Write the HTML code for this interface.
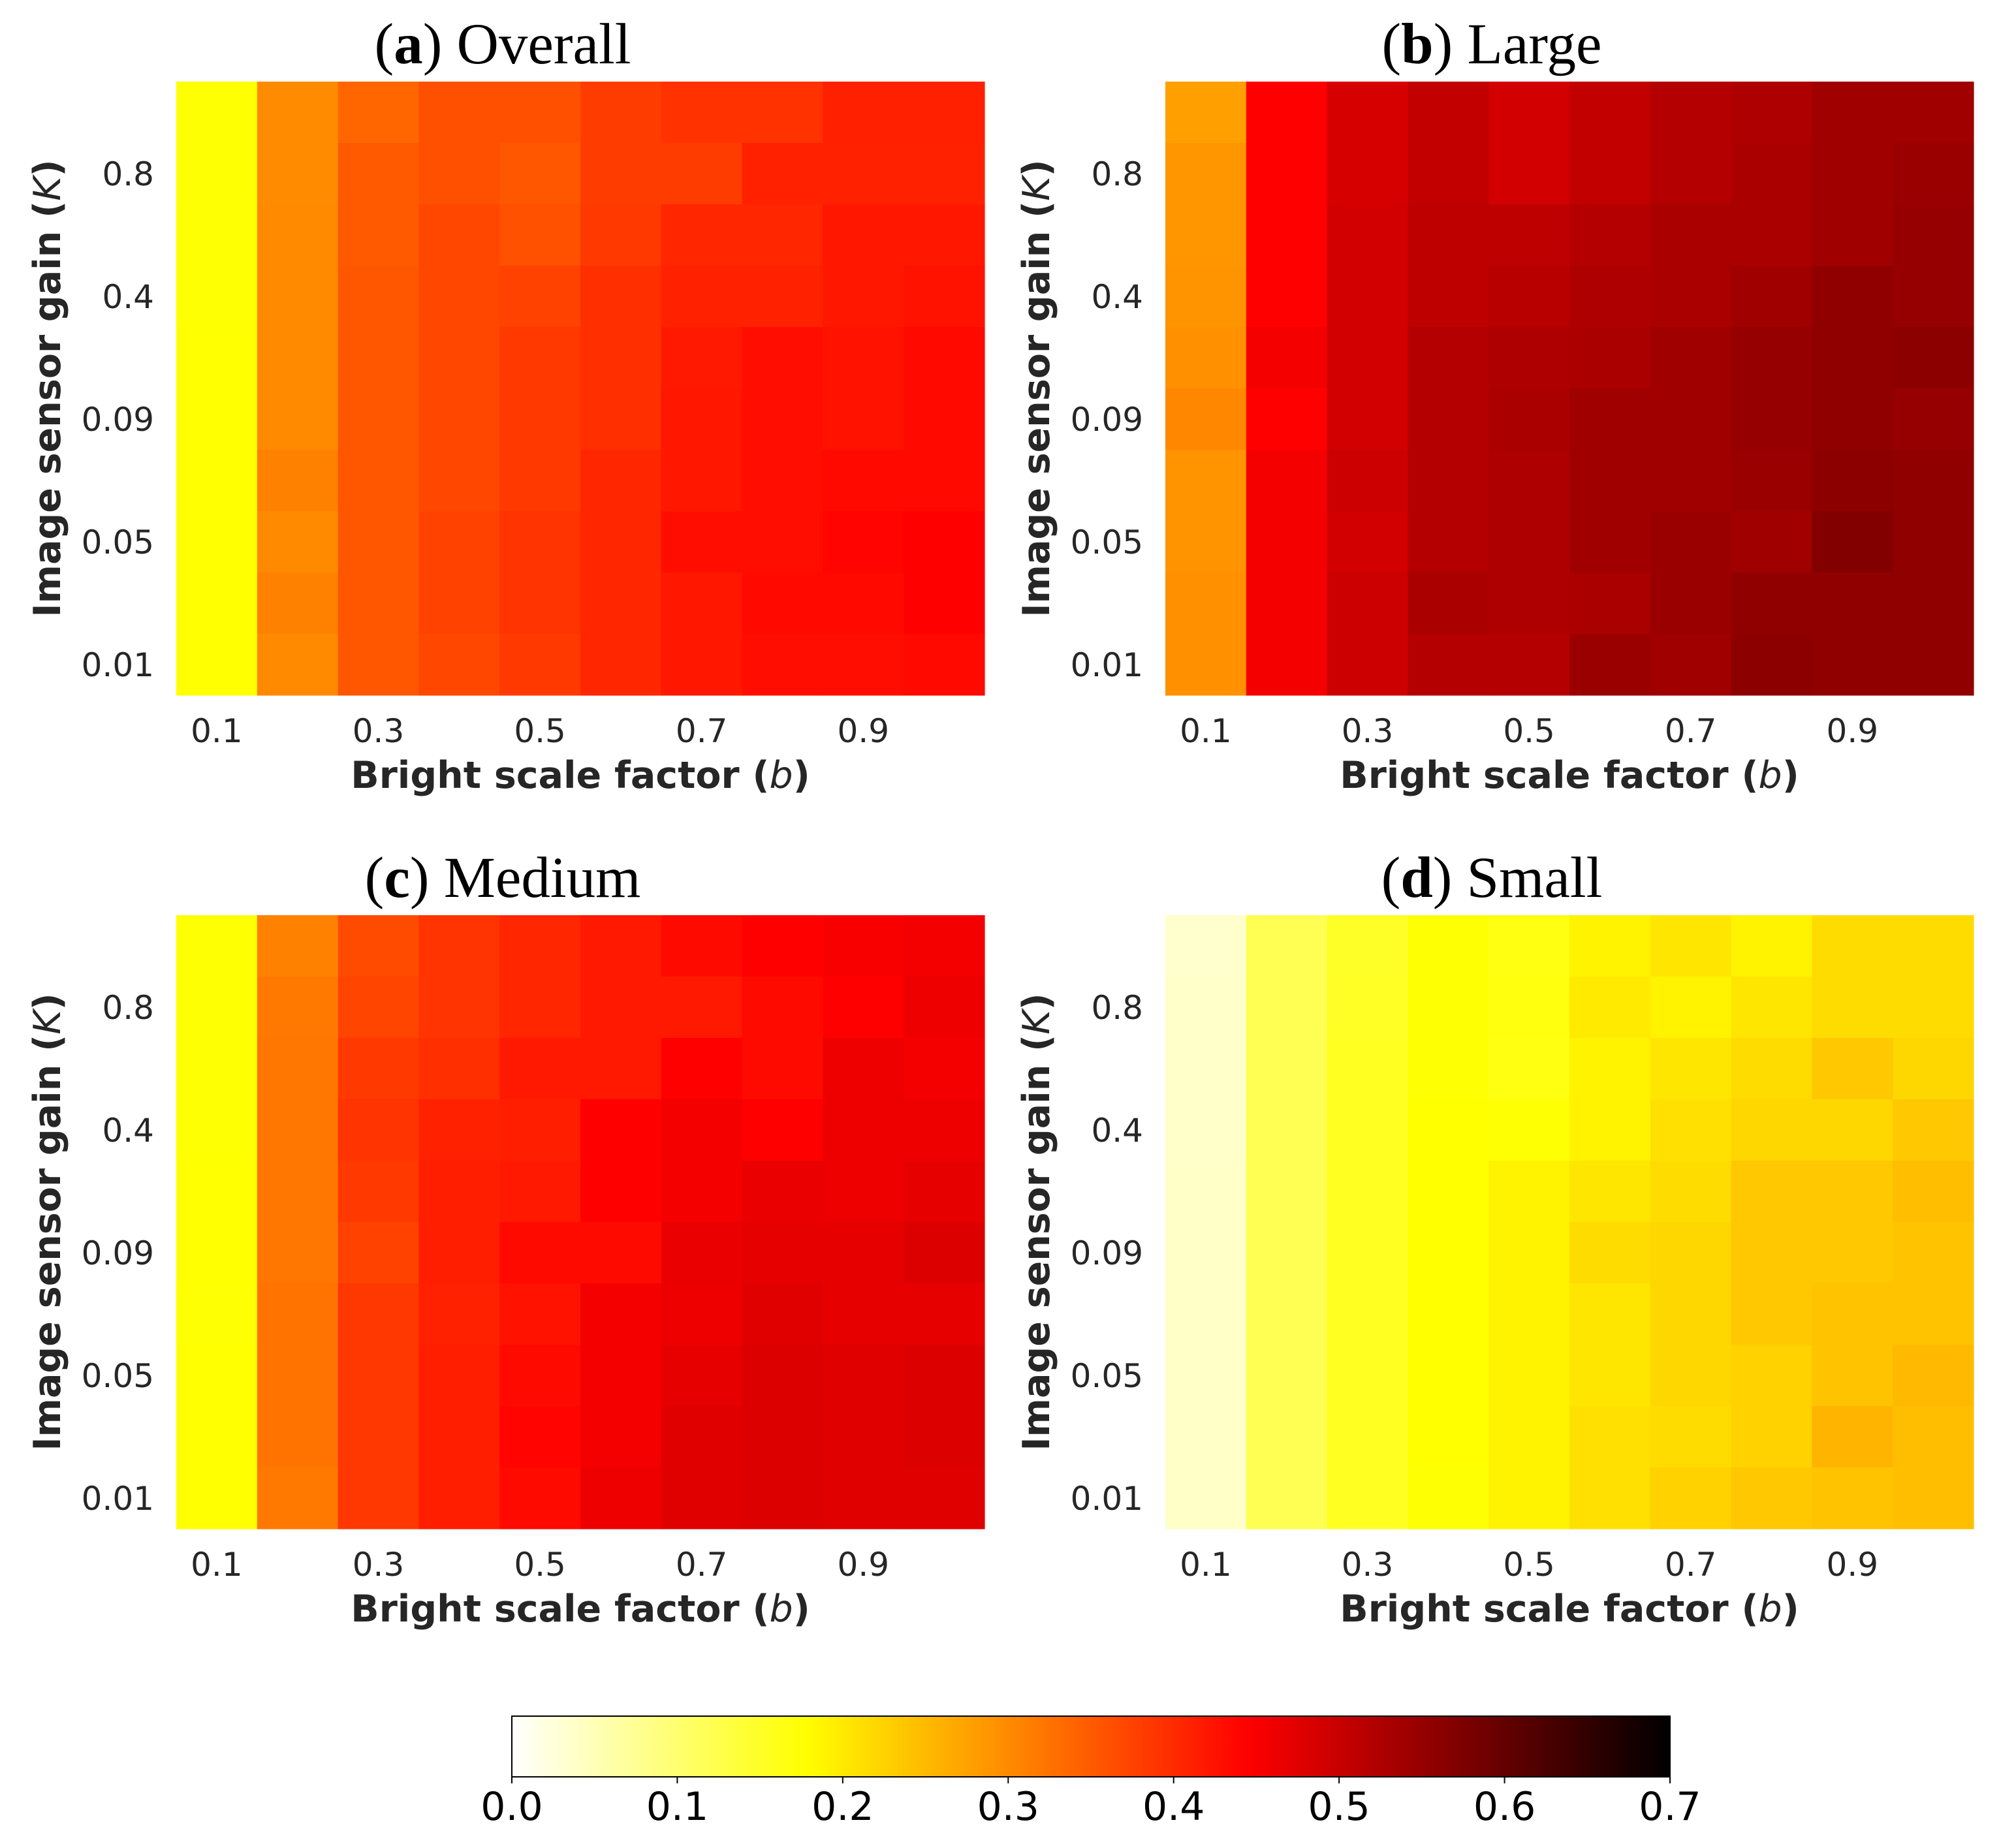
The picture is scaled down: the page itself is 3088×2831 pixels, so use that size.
<!DOCTYPE html>
<html><head><meta charset="utf-8">
<style>
html,body{margin:0;padding:0;background:#fff;}
svg{display:block;}
.tick{font-family:"DejaVu Sans","Liberation Sans",sans-serif;font-size:50px;fill:#262626;}
.lab{font-family:"DejaVu Sans","Liberation Sans",sans-serif;font-size:57px;font-weight:bold;fill:#262626;}
.ttl{font-family:"Liberation Serif",serif;font-size:89px;fill:#000;}
.cbt{font-family:"DejaVu Sans","Liberation Sans",sans-serif;font-size:60px;fill:#000;}
</style></head>
<body>
<svg id="fig" width="3088" height="2831" viewBox="0 0 3088 2831" xmlns="http://www.w3.org/2000/svg">
<defs><linearGradient id="cbgrad" x1="0" x2="1" y1="0" y2="0"></linearGradient></defs>
</svg>
<script>
const xTickLabels = ["0.1","0.3","0.5","0.7","0.9"];
const xTickCols = [0,2,4,6,8];
const yTickLabels = ["0.8","0.4","0.09","0.05","0.01"];
const yTickRows = [1,3,5,7,9];
const cbTicks = [0.0,0.1,0.2,0.3,0.4,0.5,0.6,0.7];
const vmin = 0, vmax = 0.7;

const overallData = [
[0.175,0.298,0.338,0.361,0.361,0.382,0.392,0.392,0.411,0.411],
[0.175,0.298,0.350,0.361,0.355,0.382,0.382,0.410,0.410,0.410],
[0.176,0.300,0.350,0.370,0.360,0.385,0.405,0.405,0.420,0.420],
[0.176,0.300,0.355,0.370,0.375,0.395,0.410,0.410,0.420,0.425],
[0.177,0.300,0.355,0.370,0.385,0.395,0.418,0.430,0.425,0.435],
[0.177,0.300,0.355,0.370,0.385,0.395,0.420,0.430,0.425,0.435],
[0.177,0.310,0.355,0.370,0.385,0.405,0.420,0.430,0.435,0.435],
[0.177,0.300,0.355,0.375,0.390,0.405,0.430,0.430,0.440,0.444],
[0.177,0.310,0.355,0.375,0.390,0.405,0.420,0.435,0.435,0.444],
[0.177,0.300,0.355,0.370,0.385,0.405,0.420,0.430,0.430,0.435]];
const largeData = [
[0.277,0.444,0.485,0.505,0.490,0.505,0.520,0.525,0.540,0.540],
[0.288,0.444,0.485,0.505,0.490,0.505,0.520,0.530,0.540,0.545],
[0.288,0.444,0.490,0.510,0.510,0.520,0.530,0.530,0.540,0.550],
[0.290,0.444,0.490,0.510,0.515,0.525,0.530,0.540,0.555,0.550],
[0.293,0.455,0.490,0.520,0.525,0.530,0.540,0.550,0.555,0.560],
[0.303,0.444,0.490,0.520,0.530,0.540,0.540,0.550,0.555,0.550],
[0.290,0.455,0.495,0.520,0.525,0.540,0.540,0.545,0.560,0.555],
[0.290,0.455,0.490,0.520,0.525,0.540,0.545,0.540,0.570,0.555],
[0.293,0.455,0.495,0.530,0.525,0.530,0.545,0.555,0.555,0.555],
[0.293,0.455,0.495,0.520,0.520,0.545,0.540,0.560,0.555,0.555]];
const mediumData = [
[0.176,0.310,0.366,0.390,0.405,0.418,0.434,0.444,0.450,0.455],
[0.176,0.318,0.372,0.390,0.405,0.418,0.418,0.434,0.444,0.460],
[0.176,0.320,0.385,0.395,0.418,0.418,0.444,0.434,0.460,0.455],
[0.176,0.320,0.390,0.410,0.413,0.444,0.455,0.444,0.460,0.460],
[0.177,0.320,0.385,0.413,0.418,0.444,0.455,0.465,0.460,0.470],
[0.177,0.320,0.375,0.413,0.434,0.434,0.465,0.470,0.470,0.480],
[0.176,0.324,0.387,0.410,0.425,0.455,0.460,0.475,0.470,0.470],
[0.177,0.324,0.387,0.413,0.434,0.455,0.470,0.480,0.475,0.480],
[0.177,0.324,0.387,0.413,0.440,0.455,0.475,0.480,0.475,0.480],
[0.177,0.318,0.387,0.413,0.434,0.460,0.475,0.480,0.475,0.475]];
const smallData = [
[0.035,0.120,0.150,0.175,0.165,0.190,0.204,0.190,0.214,0.214],
[0.037,0.120,0.152,0.175,0.168,0.200,0.190,0.204,0.214,0.214],
[0.037,0.120,0.155,0.175,0.165,0.190,0.204,0.214,0.235,0.220],
[0.037,0.120,0.155,0.178,0.175,0.190,0.210,0.220,0.220,0.235],
[0.038,0.120,0.155,0.178,0.190,0.204,0.214,0.235,0.235,0.245],
[0.038,0.120,0.155,0.178,0.190,0.214,0.220,0.235,0.235,0.240],
[0.038,0.120,0.155,0.178,0.190,0.204,0.220,0.235,0.240,0.240],
[0.038,0.120,0.155,0.178,0.190,0.204,0.220,0.225,0.240,0.250],
[0.038,0.120,0.155,0.178,0.190,0.210,0.214,0.225,0.255,0.245],
[0.038,0.120,0.155,0.175,0.190,0.210,0.225,0.235,0.240,0.245]];

const NS = "http://www.w3.org/2000/svg";
const svg = document.getElementById("fig");
function mk(tag, attrs, parent){const e=document.createElementNS(NS,tag);for(const k in attrs)e.setAttribute(k,attrs[k]);(parent||svg).appendChild(e);return e;}
function clip(x){return Math.max(0,Math.min(1,x));}
function hotR(v){
  const t = 1 - clip((v - vmin)/(vmax - vmin));
  const r = clip(t/0.365079), g = clip((t-0.365079)/(0.746032-0.365079)), b = clip((t-0.746032)/(1-0.746032));
  return "rgb("+Math.round(r*255)+","+Math.round(g*255)+","+Math.round(b*255)+")";
}

const panels = [
 {key:"overall", letter:"a", name:"Overall", data:overallData, x0:270, y0:125},
 {key:"large", letter:"b", name:"Large", data:largeData, x0:1785, y0:125},
 {key:"medium", letter:"c", name:"Medium", data:mediumData, x0:270, y0:1402},
 {key:"small", letter:"d", name:"Small", data:smallData, x0:1785, y0:1402}
];
const W = 1238, H = 940;

panels.forEach(p=>{
  const g = mk("g",{});
  
  
  const nr = p.data.length, nc = p.data[0].length;
  const cw = W/nc, rh = H/nr;
  const xPos = c => p.x0 + c*cw;
  const yPos = r => p.y0 + r*rh;
  p.data.forEach((row,ri)=>row.forEach((v,ci)=>{
    const rc = mk("rect",{x:xPos(ci).toFixed(2),y:yPos(ri).toFixed(2),width:(cw+0.6).toFixed(2),height:(rh+0.6).toFixed(2),fill:hotR(v)},g);
    
    
  }));
  xTickLabels.forEach((lab,i)=>{
    const t = mk("text",{x:xPos(xTickCols[i]+0.5),y:p.y0+H+72,"text-anchor":"middle",class:"tick"},g);
    t.textContent = lab;
    
    
  });
  yTickLabels.forEach((lab,i)=>{
    const t = mk("text",{x:p.x0-34,y:yPos(yTickRows[i]+0.5)+18,"text-anchor":"end",class:"tick"},g);
    t.textContent = lab;
    
    
  });
  const xl = mk("text",{x:p.x0+W/2,y:p.y0+H+142,"text-anchor":"middle",class:"lab"},g);
  xl.innerHTML = 'Bright scale factor (<tspan font-style="italic" font-weight="normal">b</tspan>)';
  
  
  const cy = p.y0+H/2, cx = p.x0-178;
  const yl = mk("text",{x:cx,y:cy,"text-anchor":"middle",class:"lab",transform:"rotate(-90 "+cx+" "+cy+")"},g);
  yl.innerHTML = 'Image sensor gain (<tspan font-style="italic" font-weight="normal">K</tspan>)';
  
  
  const tt = mk("text",{x:p.x0+500,y:p.y0-28,"text-anchor":"middle",class:"ttl"},g);
  tt.innerHTML = '(<tspan font-weight="bold">'+p.letter+'</tspan>) '+p.name;
  
  
});

// colorbar
const cbX0 = 784, cbX1 = 2558, cbY0 = 2629, cbY1 = 2722;
const grad = document.getElementById("cbgrad");
for(let i=0;i<=70;i++){
  const v = vmin + (vmax-vmin)*i/70;
  mk("stop",{offset:(i/70).toFixed(4),"stop-color":hotR(v)},grad);
}
const cbScale = v => cbX0 + (v-vmin)/(vmax-vmin)*(cbX1-cbX0);
const cbg = mk("g",{});


const cbr = mk("rect",{x:cbX0,y:cbY0,width:cbX1-cbX0,height:cbY1-cbY0,fill:"url(#cbgrad)",stroke:"#000","stroke-width":2},cbg);


cbTicks.forEach(v=>{
  const x = cbScale(v);
  const l = mk("line",{x1:x,x2:x,y1:cbY1,y2:cbY1+10,stroke:"#000","stroke-width":2},cbg);
  
  
  const t = mk("text",{x:x,y:2788,"text-anchor":"middle",class:"cbt"},cbg);
  t.textContent = v.toFixed(1);
  
  
});
</script>
</body></html>
